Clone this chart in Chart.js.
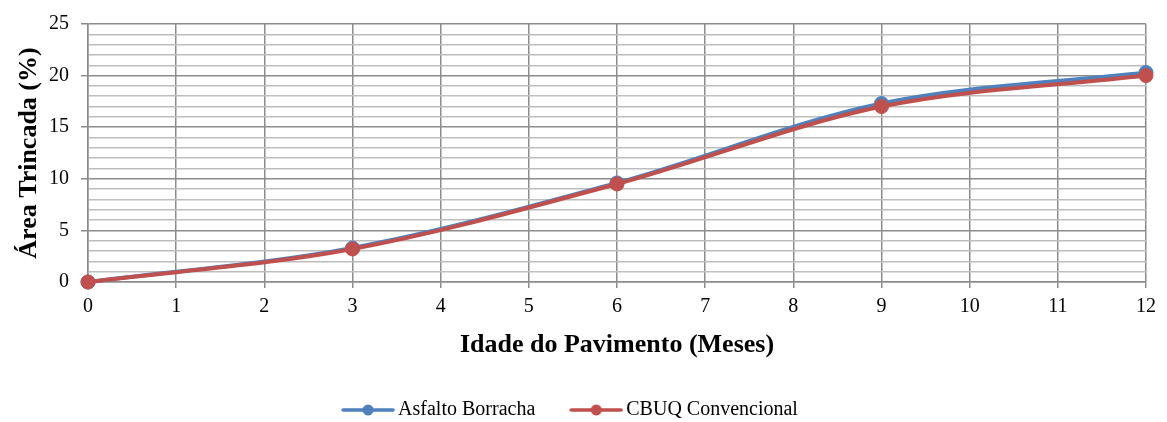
<!DOCTYPE html>
<html>
<head>
<meta charset="utf-8">
<script src="https://cdn.jsdelivr.net/npm/chart.js@4.4.1/dist/chart.umd.min.js"></script>
<style>
  html, body { margin: 0; padding: 0; background: #fff; }
  #wrap { width: 1167px; height: 422px; }
</style>
</head>
<body>
<div id="wrap"><canvas id="c" width="1167" height="422"></canvas></div>
<script>
// Pavement age (months) and cracked area (%) for each mix
const months = [0, 3, 6, 9, 12];
const asfaltoBorracha = [0, 3.3, 9.6, 17.3, 20.3];
const cbuqConvencional = [0, 3.2, 9.5, 17.0, 20.0];
const seriesNames = ['Asfalto Borracha', 'CBUQ Convencional'];
const xTitle = 'Idade do Pavimento (Meses)';
const yTitle = 'Área Trincada (%)';

const BLUE = '#4F81BD';
const RED = '#C0504D';
const SERIF = "'Liberation Serif', 'Times New Roman', serif";

// line-with-marker swatch for the legend
function swatch(color) {
  const cv = document.createElement('canvas');
  cv.width = 54; cv.height = 14;
  const g = cv.getContext('2d');
  g.strokeStyle = color; g.lineWidth = 3.5; g.lineCap = 'round';
  g.beginPath(); g.moveTo(2, 7); g.lineTo(52, 7); g.stroke();
  g.fillStyle = color;
  g.beginPath(); g.arc(27, 7, 5.5, 0, Math.PI * 2); g.fill();
  return cv;
}

const toPoints = (ys) => months.map((m, i) => ({ x: m, y: ys[i] }));

new Chart(document.getElementById('c'), {
  type: 'line',
  data: {
    datasets: [
      {
        label: seriesNames[0],
        data: toPoints(asfaltoBorracha),
        borderColor: BLUE, backgroundColor: BLUE,
        borderWidth: 4, tension: 1 / 3, clip: false, order: 1,
        pointRadius: 7, pointBorderWidth: 1, pointBorderColor: BLUE
      },
      {
        label: seriesNames[1],
        data: toPoints(cbuqConvencional),
        borderColor: RED, backgroundColor: RED,
        borderWidth: 4, tension: 1 / 3, clip: false, order: 0,
        pointRadius: 7, pointBorderWidth: 1, pointBorderColor: RED
      }
    ]
  },
  options: {
    responsive: false,
    animation: false,
    devicePixelRatio: 1,
    layout: { padding: { top: 22, right: 21, bottom: -8, left: 0 } },
    plugins: {
      tooltip: { enabled: false },
      legend: {
        position: 'bottom',
        labels: {
          usePointStyle: true,
          pointStyleWidth: 40,
          boxHeight: 20,
          padding: 41,
          color: '#000',
          font: { family: SERIF, size: 20 },
          generateLabels(chart) {
            return chart.data.datasets.map((ds, i) => ({
              text: ds.label,
              pointStyle: swatch(ds.borderColor),
              fillStyle: ds.borderColor,
              strokeStyle: ds.borderColor,
              lineWidth: 0,
              hidden: false,
              datasetIndex: i
            }));
          }
        }
      }
    },
    scales: {
      x: {
        type: 'linear',
        min: 0, max: 12,
        ticks: { stepSize: 1, color: '#000', font: { family: SERIF, size: 20 }, padding: 7, maxRotation: 0 },
        grid: { color: '#8C8C8C', lineWidth: 1.5, tickLength: 6, tickColor: '#8C8C8C' },
        border: { color: '#8C8C8C', width: 1.5 },
        title: {
          display: true, text: xTitle, color: '#000',
          font: { family: SERIF, size: 26, weight: 'bold' },
          padding: { top: 0, bottom: -2 }
        },
        afterFit(scale) { scale.height = 77; }
      },
      y: {
        min: 0, max: 25,
        ticks: {
          stepSize: 1, autoSkip: false, color: '#000',
          font: { family: SERIF, size: 20 }, padding: 12,
          callback: (v) => (v % 5 === 0 ? String(v) : '')
        },
        grid: {
          lineWidth: 1.5, tickLength: 7,
          color: (ctx) => (ctx.tick && ctx.tick.value % 5 === 0 ? '#8C8C8C' : '#BDBDBD'),
          tickColor: (ctx) => (ctx.tick && ctx.tick.value % 5 === 0 ? '#8C8C8C' : 'rgba(0,0,0,0)')
        },
        border: { color: '#8C8C8C', width: 1.5 },
        title: {
          display: true, text: yTitle, color: '#000',
          font: { family: SERIF, size: 26, weight: 'bold' },
          padding: { top: 14, bottom: 0 }
        },
        afterFit(scale) { scale.width = 88; }
      }
    }
  }
});
</script>
</body>
</html>
